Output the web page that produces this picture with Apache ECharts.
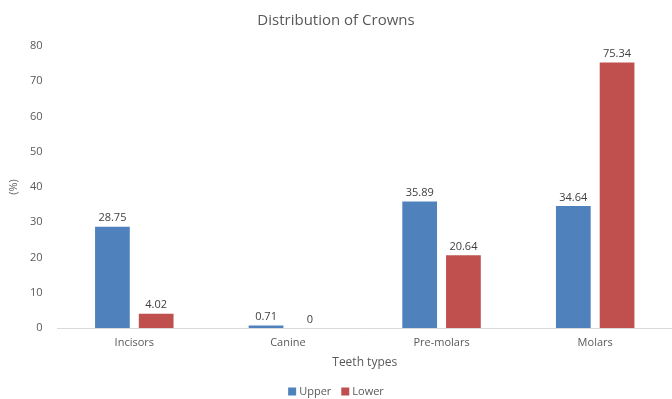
<!DOCTYPE html>
<html>
<head>
<meta charset="utf-8">
<script src="https://cdn.jsdelivr.net/npm/echarts@6/dist/echarts.min.js"></script>
<style>
  html, body { margin: 0; padding: 0; background: #fff; }
  #chart { width: 672px; height: 399px; }
</style>
</head>
<body>
<div id="chart"></div>
<script>
// teeth categories
var categories = ['Incisors', 'Canine', 'Pre-molars', 'Molars'];
// % of crowns, upper and lower jaw
var upperValues = [28.75, 0.71, 35.89, 34.64];
var lowerValues = [4.02, 0, 20.64, 75.34];

var labelStyle = {
  show: true,
  position: 'top',
  distance: 3,
  color: '#404040',
  fontSize: 11,
  fontFamily: 'Open Sans'
};

var chart = echarts.init(document.getElementById('chart'));
chart.setOption({
  animation: false,
  textStyle: { fontFamily: 'Open Sans' },
  title: {
    text: 'Distribution of Crowns',
    left: 'center',
    top: 8,
    textStyle: { fontSize: 15, fontWeight: 'normal', color: '#595959' }
  },
  legend: {
    top: 384,
    left: 'center',
    padding: 2,
    itemWidth: 8,
    itemHeight: 8,
    itemGap: 10,
    icon: 'rect',
    textStyle: { fontSize: 11, color: '#595959', padding: [0, 0, 0, -2] },
    data: ['Upper', 'Lower']
  },
  grid: { left: 57, right: -4, top: 46, bottom: 71 },
  xAxis: {
    type: 'category',
    data: categories,
    name: 'Teeth types',
    nameLocation: 'middle',
    nameGap: 29,
    nameTextStyle: { fontSize: 12, color: '#595959' },
    axisLine: { lineStyle: { color: '#d9d9d9' } },
    axisTick: { show: false },
    axisLabel: { fontSize: 11, color: '#595959', margin: 9 }
  },
  yAxis: {
    type: 'value',
    min: 0,
    max: 80,
    interval: 10,
    name: '(%)',
    nameLocation: 'middle',
    nameGap: 28,
    nameRotate: 90,
    nameTextStyle: { fontSize: 11, color: '#595959' },
    axisLine: { show: false },
    axisTick: { show: false },
    splitLine: { show: false },
    axisLabel: { fontSize: 11, color: '#595959', margin: 15 }
  },
  series: [
    {
      name: 'Upper',
      type: 'bar',
      data: upperValues,
      barWidth: '22.6%',
      barGap: '26%',
      itemStyle: { color: '#4f81bd' },
      label: labelStyle
    },
    {
      name: 'Lower',
      type: 'bar',
      data: lowerValues,
      barWidth: '22.6%',
      itemStyle: { color: '#c0504d' },
      label: labelStyle
    }
  ]
});
</script>
</body>
</html>
